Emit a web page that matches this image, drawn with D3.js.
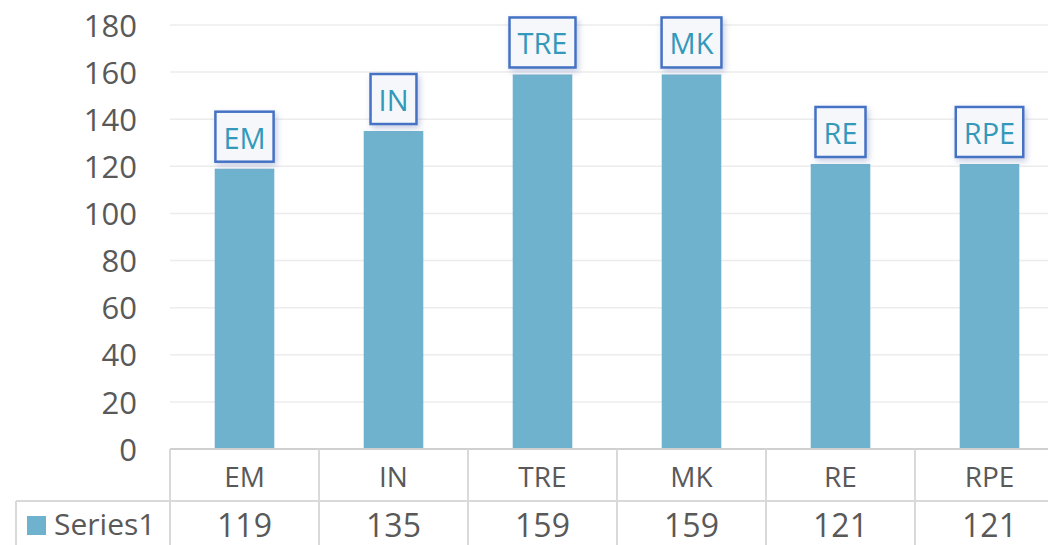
<!DOCTYPE html>
<html><head><meta charset="utf-8">
<script src="https://cdn.jsdelivr.net/npm/d3@7"></script>
<style>html,body{margin:0;padding:0;background:#fff;overflow:hidden}</style>
</head><body>
<svg id="c" width="1048" height="545"></svg>
<script>
const categories = ["EM","IN","TRE","MK","RE","RPE"];
const series1 = [119,135,159,159,121,121];
const seriesName = "Series1";
const yTicks = [0,20,40,60,80,100,120,140,160,180];

(function(){
const W=1048,H=545;
const plotLeft=170, catW=149, plotTop=25, plotBottom=449;
const font = "'Open Sans', 'DejaVu Sans', sans-serif";
const txt="#595959";
const svg=d3.select("#c");

const defs=svg.append("defs");
const f=defs.append("filter").attr("id","sh").attr("x","-30%").attr("y","-30%").attr("width","160%").attr("height","170%");
f.append("feDropShadow").attr("dx",2).attr("dy",3).attr("stdDeviation",3).attr("flood-color","#8090c0").attr("flood-opacity",0.45);

const x=d3.scaleBand().domain(categories).range([plotLeft,plotLeft+catW*categories.length]).paddingInner(0.6).paddingOuter(0.3);
const xc=d3.scaleBand().domain(categories).range([plotLeft,plotLeft+catW*categories.length]);
const y=d3.scaleLinear().domain([0,180]).range([plotBottom,plotTop]);

svg.append("g").selectAll("line").data(yTicks.filter(d=>d>0)).join("line")
 .attr("x1",plotLeft).attr("x2",W).attr("y1",d=>y(d)).attr("y2",d=>y(d))
 .attr("stroke","#ececec").attr("stroke-width",1.5);

const yAxis=d3.axisLeft(y).tickValues(yTicks).tickSize(0).tickPadding(0);
const ga=svg.append("g").attr("transform",`translate(137,0)`).call(yAxis);
ga.select(".domain").remove();
ga.selectAll("text").attr("font-family",font).attr("font-size",31).attr("fill",txt).attr("dy","0.36em");

svg.append("g").selectAll("rect").data(categories).join("rect")
 .attr("x",d=>x(d)).attr("width",x.bandwidth())
 .attr("y",(d,i)=>y(series1[i])).attr("height",(d,i)=>plotBottom-y(series1[i]))
 .attr("fill","#6fb2cd");

const lg=svg.append("g");
categories.forEach((c,i)=>{
  const cx=xc(c)+xc.bandwidth()/2;
  const g=lg.append("g");
  const r=g.append("rect");
  const t=g.append("text").attr("x",cx).attr("y",y(series1[i])-20).attr("text-anchor","middle")
    .attr("font-family",font).attr("font-size",29).attr("fill","#3399bb").text(c);
  const w=t.node().getComputedTextLength()+16;
  r.attr("x",cx-w/2).attr("y",y(series1[i])-57).attr("width",w).attr("height",50)
   .attr("fill","#f5f7fb").attr("stroke","#4472c4").attr("stroke-width",2.5).attr("filter","url(#sh)");
});

const tb=svg.append("g");
const gridC="#d9d9d9";
tb.append("line").attr("x1",plotLeft).attr("x2",W).attr("y1",plotBottom).attr("y2",plotBottom).attr("stroke","#d0d0d0").attr("stroke-width",2);
tb.append("line").attr("x1",16).attr("x2",W).attr("y1",501).attr("y2",501).attr("stroke",gridC).attr("stroke-width",2);
const vx=[plotLeft].concat(categories.map(c=>xc(c)+xc.bandwidth()));
tb.selectAll("line.v").data(vx).join("line").attr("class","v")
 .attr("x1",d=>d).attr("x2",d=>d).attr("y1",plotBottom).attr("y2",H).attr("stroke",gridC).attr("stroke-width",2);
tb.append("line").attr("x1",16).attr("x2",16).attr("y1",501).attr("y2",H).attr("stroke",gridC).attr("stroke-width",2);
tb.selectAll("text.cat").data(categories).join("text").attr("class","cat")
 .attr("x",d=>xc(d)+xc.bandwidth()/2).attr("y",487).attr("text-anchor","middle")
 .attr("font-family",font).attr("font-size",28).attr("fill",txt).text(d=>d);
tb.selectAll("text.val").data(series1).join("text").attr("class","val")
 .attr("x",(d,i)=>xc(categories[i])+xc.bandwidth()/2).attr("y",537).attr("text-anchor","middle")
 .attr("font-family",font).attr("font-size",32).attr("fill",txt).text(d=>d);
tb.append("rect").attr("x",27).attr("y",516).attr("width",19).attr("height",19).attr("fill","#6fb2cd");
tb.append("text").attr("x",54).attr("y",535).attr("font-family",font).attr("font-size",30).attr("fill",txt).text(seriesName);
})();
</script>
</body></html>
